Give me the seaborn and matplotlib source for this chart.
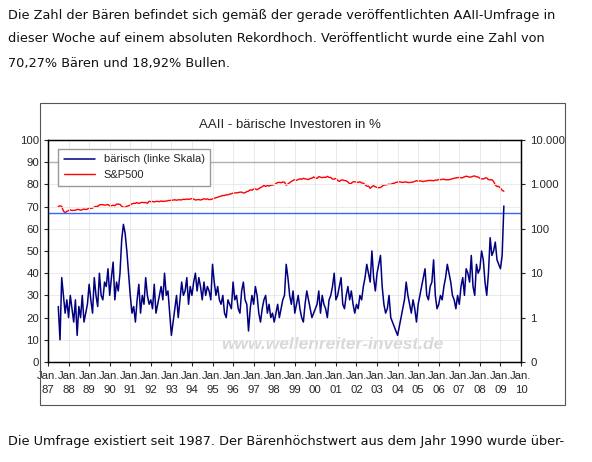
import numpy as np
import pandas as pd
import matplotlib
matplotlib.use("Agg")
import matplotlib.pyplot as plt
import seaborn as sns

bear_1987 = [25, 10, 38, 30, 22, 28]
bear_rest = [
    [20, 30, 24, 18, 28, 12, 25, 20, 30, 18, 22, 26],
    [35, 28, 22, 38, 30, 25, 40, 30, 28, 36, 34, 42],
    [30, 38, 45, 28, 36, 32, 40, 55, 62, 58, 50, 40],
    [30, 22, 25, 18, 28, 35, 22, 30, 26, 38, 30, 26],
    [28, 24, 35, 22, 26, 30, 34, 28, 40, 30, 32, 22],
    [12, 18, 24, 30, 20, 28, 36, 30, 32, 38, 26, 34],
    [30, 36, 40, 32, 38, 34, 28, 36, 30, 34, 32, 28],
    [44, 36, 30, 34, 28, 26, 30, 22, 20, 28, 26, 24],
    [36, 28, 30, 24, 22, 32, 36, 28, 26, 14, 24, 30],
    [26, 34, 30, 22, 18, 24, 28, 30, 22, 26, 20, 22],
    [18, 22, 26, 20, 24, 28, 30, 44, 38, 30, 26, 32],
    [22, 26, 30, 24, 20, 18, 26, 32, 28, 24, 20, 22],
    [24, 26, 32, 22, 30, 26, 24, 20, 28, 30, 34, 40],
    [28, 30, 34, 38, 26, 24, 30, 34, 28, 32, 26, 22],
    [26, 24, 30, 28, 34, 38, 44, 40, 36, 50, 38, 32],
    [40, 44, 48, 34, 26, 22, 24, 30, 20, 18, 16, 14],
    [12, 16, 20, 24, 28, 36, 30, 26, 22, 28, 24, 18],
    [26, 30, 34, 38, 42, 30, 28, 34, 36, 46, 30, 24],
    [26, 30, 28, 34, 38, 44, 40, 36, 30, 28, 24, 30],
    [26, 34, 38, 30, 42, 40, 36, 48, 34, 30, 44, 40],
    [42, 50, 46, 36, 30, 40, 56, 48, 50, 54, 46, 44],
]
bear_2009 = [42, 48, 70.27]

spx_1987 = [318, 329, 321, 251, 230, 247]
spx_rest = [
    [257, 267, 258, 261, 262, 273, 272, 261, 271, 278, 273, 277],
    [297, 288, 294, 309, 320, 317, 346, 351, 349, 340, 345, 353],
    [329, 331, 339, 330, 361, 358, 356, 322, 306, 304, 322, 330],
    [343, 367, 375, 375, 389, 371, 387, 395, 387, 392, 375, 417],
    [408, 412, 403, 414, 415, 408, 424, 414, 418, 419, 431, 435],
    [438, 443, 451, 440, 450, 450, 448, 463, 458, 467, 461, 466],
    [481, 467, 445, 450, 456, 444, 458, 475, 462, 472, 453, 459],
    [470, 487, 500, 514, 533, 544, 562, 561, 584, 581, 605, 615],
    [636, 640, 645, 654, 669, 670, 639, 651, 687, 705, 757, 740],
    [786, 790, 757, 801, 848, 885, 954, 899, 947, 914, 955, 970],
    [980, 1049, 1101, 1111, 1090, 1133, 1120, 957, 1017, 1098, 1163, 1229],
    [1279, 1238, 1286, 1335, 1301, 1372, 1328, 1320, 1282, 1362, 1388, 1469],
    [1394, 1366, 1498, 1452, 1420, 1454, 1430, 1517, 1436, 1429, 1315, 1320],
    [1366, 1239, 1160, 1249, 1255, 1224, 1211, 1133, 1040, 1060, 1139, 1148],
    [1130, 1107, 1147, 1076, 1067, 990, 912, 916, 815, 886, 936, 880],
    [856, 841, 848, 917, 964, 975, 990, 1008, 996, 1051, 1058, 1112],
    [1131, 1145, 1126, 1107, 1121, 1141, 1101, 1104, 1115, 1130, 1174, 1212],
    [1181, 1204, 1181, 1157, 1192, 1191, 1234, 1220, 1229, 1207, 1249, 1248],
    [1280, 1281, 1295, 1311, 1270, 1270, 1277, 1304, 1336, 1378, 1401, 1418],
    [1438, 1407, 1421, 1482, 1531, 1503, 1455, 1474, 1527, 1549, 1481, 1468],
    [1378, 1331, 1323, 1386, 1400, 1280, 1267, 1283, 1165, 969, 896, 903],
]
spx_2009 = [826, 735, 700]

year_labels = ["87", "88", "89", "90", "91", "92", "93", "94", "95", "96", "97", "98",
               "99", "00", "01", "02", "03", "04", "05", "06", "07", "08", "09", "10"]
right_ticks = [0.1, 1, 10, 100, 1000, 10000]
right_labels = ["0", "1", "10", "100", "1.000", "10.000"]
record_level = 67
gray_level = 90

bear = bear_1987 + sum(bear_rest, []) + bear_2009
spx = spx_1987 + sum(spx_rest, []) + spx_2009
t = 1987 + 6 / 12 + np.arange(len(bear)) / 12
df = pd.DataFrame({"t": t, "bear": bear, "spx": spx})

sns.set_style("white")
plt.rcParams["font.family"] = ["Liberation Sans", "DejaVu Sans"]
W, H = 592, 462
fig = plt.figure(figsize=(W / 100, H / 100), dpi=100)

fig.patches.append(plt.Rectangle((40 / W, 1 - 405 / H), 525 / W, 302 / H,
                                 transform=fig.transFigure, fill=False,
                                 edgecolor="#555555", lw=0.8))
ax = fig.add_axes([48 / W, 1 - 362 / H, (521 - 48) / W, (362 - 140) / H])
ax2 = ax.twinx()
ax.set_zorder(ax2.get_zorder() + 1)
ax.patch.set_visible(False)

ax.set_xlim(1987, 2010)
ax.set_ylim(0, 100)
ax.set_xticks(np.arange(1987, 2011))
ax.set_xticklabels(["Jan.\n" + y for y in year_labels], fontsize=8.2, linespacing=1.5)
ax.set_yticks(np.arange(0, 101, 10))
ax.tick_params(axis="y", labelsize=8.2, length=3, direction="out", left=True)
ax.tick_params(axis="x", length=3, direction="out", bottom=True)
ax.grid(True, color="#e6e6e6", lw=0.6)
ax2.grid(False)

ax.axhline(gray_level, color="#b0b0b0", lw=1)
ax.axhline(record_level, color="#3366ff", lw=1)
sns.lineplot(data=df, x="t", y="bear", ax=ax, color="#000080", lw=1.1,
             label="bärisch (linke Skala)")
sns.lineplot(data=df, x="t", y="spx", ax=ax2, color="#ff0000", lw=1,
             label="S&P500", legend=False)
ax2.set_yscale("log")
ax2.set_ylim(0.1, 10000)
ax2.set_yticks(right_ticks)
ax2.set_yticklabels(right_labels)
ax2.minorticks_off()
ax2.tick_params(axis="y", labelsize=8.2, length=3, direction="out", right=True)
ax.set_xlabel("")
ax.set_ylabel("")
ax2.set_ylabel("")

h1, l1 = ax.get_legend_handles_labels()
h2, l2 = ax2.get_legend_handles_labels()
ax.legend(h1 + h2, l1 + l2, loc="upper left", fontsize=8, fancybox=False,
          framealpha=1, edgecolor="#999999", bbox_to_anchor=(0.01, 0.985),
          handlelength=2.8, borderpad=0.5)
for s in ax.spines.values():
    s.set_color("black")
    s.set_linewidth(1)

ax.text(0.6, 0.06, "www.wellenreiter-invest.de", transform=ax.transAxes,
        ha="center", fontsize=12.5, style="italic", fontweight="bold",
        color="#d8d8d8", zorder=0)
fig.text(290 / W, 1 - 125 / H, "AAII - bärische Investoren in %", ha="center",
         va="center", fontsize=9.5)

tf = dict(fontsize=9.3, family=["DejaVu Sans"], va="center", ha="left", color="#111111")
fig.text(8 / W, 1 - 15 / H, "Die Zahl der Bären befindet sich gemäß der gerade veröffentlichten AAII-Umfrage in", **tf)
fig.text(8 / W, 1 - 39 / H, "dieser Woche auf einem absoluten Rekordhoch. Veröffentlicht wurde eine Zahl von", **tf)
fig.text(8 / W, 1 - 63 / H, "70,27% Bären und 18,92% Bullen.", **tf)
fig.text(8 / W, 1 - 441 / H, "Die Umfrage existiert seit 1987. Der Bärenhöchstwert aus dem Jahr 1990 wurde über-", **tf)

fig.savefig("out.png", dpi=100)
